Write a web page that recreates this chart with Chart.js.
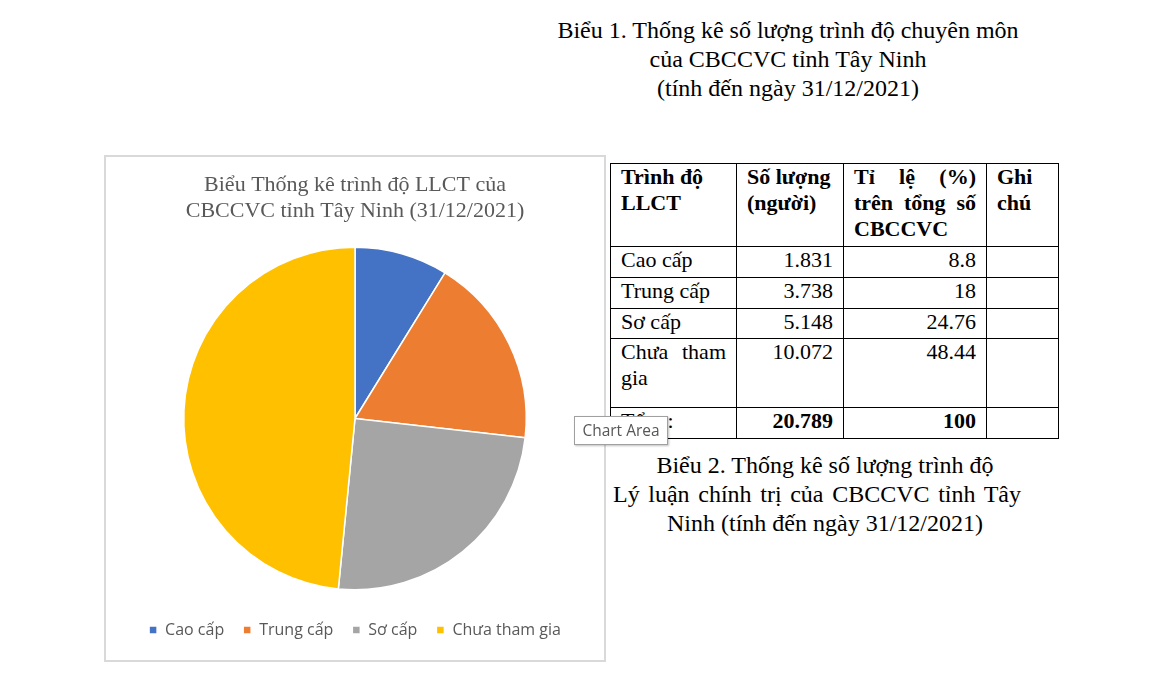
<!DOCTYPE html>
<html><head><meta charset="utf-8">
<script src="https://cdn.jsdelivr.net/npm/chart.js@4"></script>
<style>
body{margin:0;background:#fff;width:1164px;height:674px;position:relative;overflow:hidden;font-family:"Liberation Serif","Times New Roman",serif;color:#000}
.cap{position:absolute;text-align:center;font-size:24px;line-height:29px;white-space:nowrap}
#box{position:absolute;left:104px;top:155px;width:498px;height:503px;border:2px solid #d9d9d9;background:#fff}
#box canvas{display:block}
table{position:absolute;left:610px;top:163px;border-collapse:collapse;table-layout:fixed;width:448px;font-size:22px;line-height:26px}
td{border:1.5px solid #000;padding:0 10px;vertical-align:top}
th{border:1.5px solid #000;padding:0 10px;vertical-align:top;text-align:left;font-weight:bold}
.r{text-align:right}
.j{text-align:justify;text-align-last:justify}
#tip{position:absolute;left:574px;top:416px;width:92px;height:27px;border:1px solid #a0a0a0;background:#fff;font-family:"Open Sans",sans-serif;font-size:15.5px;color:#575757;line-height:27px;text-align:center;box-shadow:1px 1px 2px rgba(0,0,0,.25)}
</style></head><body>
<div class="cap" style="left:480px;top:16px;width:616px">Biểu 1. Thống kê số lượng trình độ chuyên môn<br>của CBCCVC tỉnh Tây Ninh<br>(tính đến ngày 31/12/2021)</div>
<div id="box"><canvas id="c" width="498" height="503"></canvas></div>
<table>
<colgroup><col style="width:126px"><col style="width:107px"><col style="width:143px"><col style="width:72px"></colgroup>
<tr style="height:83px"><th>Trình độ LLCT</th><th>Số lượng (người)</th><th><div class="j">Tỉ lệ (%)</div><div class="j">trên tổng số</div>CBCCVC</th><th>Ghi chú</th></tr>
<tr style="height:31px"><td>Cao cấp</td><td class="r">1.831</td><td class="r">8.8</td><td></td></tr>
<tr style="height:31px"><td>Trung cấp</td><td class="r">3.738</td><td class="r">18</td><td></td></tr>
<tr style="height:30px"><td>Sơ cấp</td><td class="r">5.148</td><td class="r">24.76</td><td></td></tr>
<tr style="height:69px"><td><div class="j">Chưa tham</div>gia</td><td class="r">10.072</td><td class="r">48.44</td><td></td></tr>
<tr style="height:31px"><td>Tổng:</td><td class="r"><b>20.789</b></td><td class="r"><b>100</b></td><td></td></tr>
</table>
<div id="tip">Chart Area</div>
<div class="cap" style="left:625px;top:451px;width:400px">Biểu 2. Thống kê số lượng trình độ</div>
<div class="cap j" style="left:613px;top:480px;width:408px">Lý luận chính trị của CBCCVC tỉnh Tây</div>
<div class="cap" style="left:625px;top:509px;width:400px">Ninh (tính đến ngày 31/12/2021)</div>
<script>
const categories = ["Cao cấp", "Trung cấp", "Sơ cấp", "Chưa tham gia"];
const counts = [1831, 3738, 5148, 10072];
const colors = ["#4472C4", "#ED7D31", "#A5A5A5", "#FFC000"];
const chartTitle = ["Biểu Thống kê trình độ LLCT của", "CBCCVC tỉnh Tây Ninh (31/12/2021)"];
new Chart(document.getElementById('c'), {
  type: 'pie',
  data: { labels: categories, datasets: [{ data: counts, backgroundColor: colors, borderColor: '#fff', borderWidth: 1.5 }] },
  options: {
    responsive: false, animation: false,
    layout: { padding: { top: 0, bottom: 12, left: 0, right: 0 } },
    plugins: {
      tooltip: { enabled: false },
      title: { display: true, text: chartTitle, color: '#595959', font: { family: 'Liberation Serif', size: 22, weight: 'normal', lineHeight: 1.2 }, padding: { top: 15, bottom: 21.7 } },
      legend: {
        position: 'bottom',
        title: { display: true, text: ' ', padding: 0, font: { size: 12.5, lineHeight: 1 } },
        labels: { boxWidth: 8, boxHeight: 8, color: '#595959', padding: 19, font: { family: 'Open Sans', size: 16 } }
      }
    }
  }
});
</script>
</body></html>
